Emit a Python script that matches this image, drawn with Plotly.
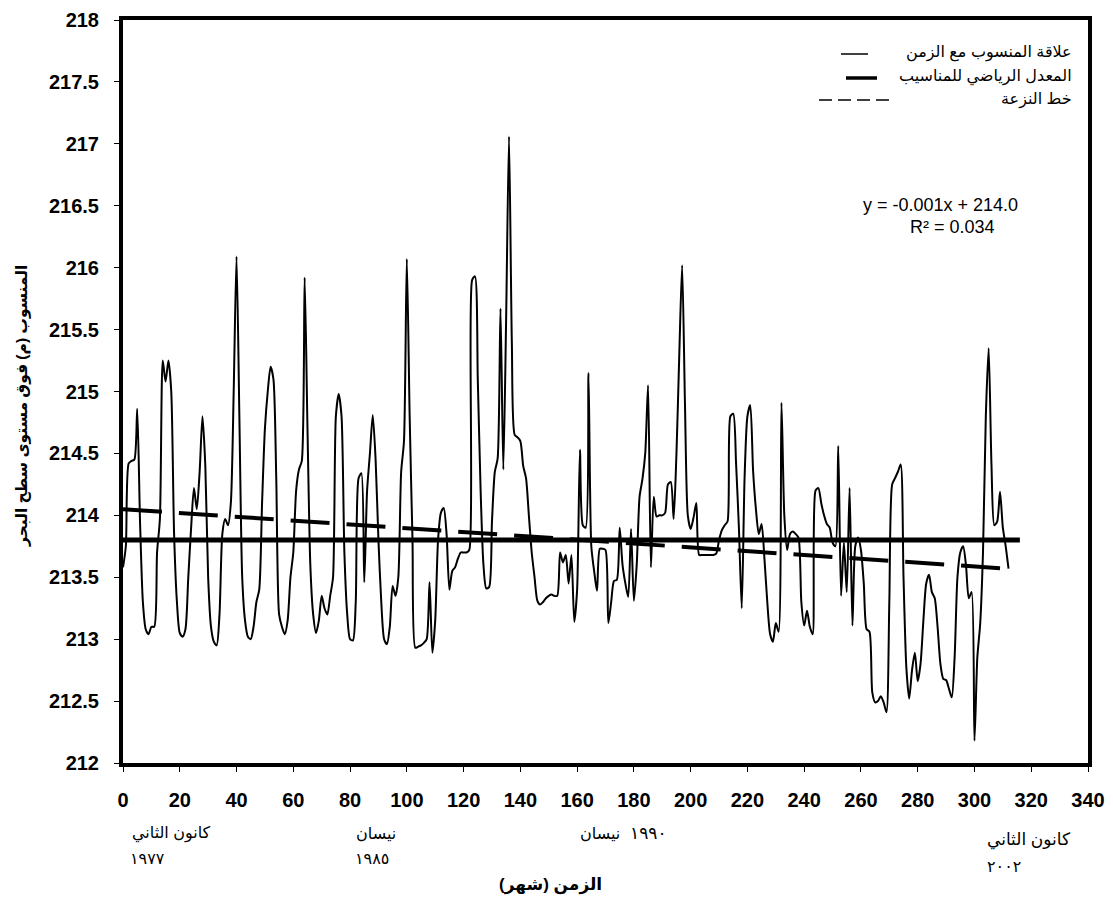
import plotly.graph_objects as go

# ---------------- data ----------------
levels = [
    213.58, 213.75, 214.42, 214.44, 214.45, 214.86, 213.95, 213.30, 213.08, 213.04,
    213.10, 213.10, 213.70, 213.97, 215.25, 215.08, 215.25, 215.00, 213.85, 213.30,
    213.05, 213.02, 213.08, 213.50, 213.90, 214.22, 214.05, 214.35, 214.80, 214.40,
    213.50, 213.10, 212.98, 212.95, 213.20, 213.85, 213.97, 213.92, 214.10, 215.00,
    216.09, 214.80, 213.50, 213.15, 213.02, 213.00, 213.10, 213.30, 213.40, 214.10,
    214.70, 215.00, 215.20, 215.10, 214.30, 213.20, 213.10, 213.04, 213.15, 213.50,
    213.70, 214.20, 214.37, 214.44, 215.92, 214.70, 213.60, 213.20, 213.05, 213.15,
    213.35, 213.25, 213.20, 213.35, 213.50, 214.80, 214.98, 214.80, 213.70, 213.20,
    213.00, 212.99, 213.30, 214.30, 214.34, 213.46, 214.20, 214.50, 214.81, 214.45,
    213.80, 213.30, 213.00, 212.96, 213.10, 213.43, 213.35, 213.50, 214.35, 214.60,
    216.07, 214.80, 213.80, 212.93, 212.94, 212.95, 212.97, 213.00, 213.46, 212.89,
    213.15, 213.80, 214.02, 214.06, 213.85, 213.40, 213.55, 213.58, 213.65, 213.70,
    213.70, 213.70, 213.72, 215.90, 215.93, 215.10, 214.20, 213.60, 213.41, 213.42,
    213.95, 214.35, 214.46, 215.67, 214.37, 215.60, 217.06, 215.40, 214.65, 214.63,
    214.60, 214.40, 214.30, 214.00, 213.70, 213.50, 213.31, 213.28, 213.30, 213.33,
    213.35, 213.36, 213.35, 213.35, 213.70, 213.62, 213.68, 213.45, 213.68, 213.14,
    213.40, 214.53, 213.92, 213.90, 215.15, 213.75, 213.55, 213.39, 213.73, 213.73,
    213.72, 213.13, 213.30, 213.47, 213.48, 213.90, 213.60, 213.45, 213.34, 213.89,
    213.31, 213.60, 214.15, 214.29, 214.50, 215.05, 213.58, 214.15, 213.99, 214.00,
    214.00, 214.02, 214.25, 214.27, 213.97, 214.50, 215.30, 216.02, 214.90, 214.00,
    213.89, 213.98, 214.10, 213.68, 213.68, 213.68, 213.68, 213.68, 213.68, 213.69,
    213.80, 213.88, 213.92, 213.95, 214.80, 214.82, 214.42, 213.90, 213.25, 214.30,
    214.80, 214.89, 214.36, 214.05, 213.85, 213.93, 213.65, 213.30, 213.04, 212.98,
    213.13, 213.06, 214.91, 214.00, 213.72, 213.85, 213.87, 213.85, 213.82, 213.30,
    213.11, 213.23, 213.10, 213.04, 214.20, 214.22, 214.10, 214.00, 213.93, 213.90,
    213.78, 213.75, 214.56, 213.35, 213.78, 213.38, 214.22, 213.11, 213.75, 213.82,
    213.72, 213.45, 213.08, 213.06, 212.57, 212.49, 212.50, 212.54, 212.49, 212.41,
    213.30, 214.25, 214.30, 214.35, 214.41, 213.50, 212.77, 212.52, 212.75, 212.89,
    212.66, 212.80, 213.15, 213.45, 213.52, 213.38, 213.33, 213.10, 212.80, 212.68,
    212.67, 212.60, 212.53, 212.85, 213.50, 213.70, 213.75, 213.60, 213.33, 213.38,
    212.18, 212.85, 213.12, 213.70, 214.80, 215.35, 214.40, 213.92, 213.95, 214.19,
    213.90, 213.75, 213.57,
]
months = list(range(len(levels)))

mean_level = 213.80
mean_span = [0, 316]

trend_months = [0, 311]
trend_levels = [214.05, 213.57]

x_ticks = list(range(0, 341, 20))
y_ticks = [212 + 0.5 * i for i in range(13)]

legend_labels = ["علاقة المنسوب مع الزمن", "المعدل الرياضي للمناسيب", "خط النزعة"]
equation_text = "y = -0.001x + 214.0"
r2_text = "R² = 0.034"
y_title = "المنسوب (م) فوق مستوى سطح البحر"
x_title = "\u200fالزمن (شهر)\u200f"

# ---------------- geometry (page pixels; page body has an 8px margin) ----------------
BODY = 8
FIG_W, FIG_H = 1113 - BODY, 906 - BODY
PLOT_L, PLOT_R, PLOT_T, PLOT_B = 123, 1088, 20, 763
PW, PH = PLOT_R - PLOT_L, PLOT_B - PLOT_T
M_L = PLOT_L - BODY
M_T = PLOT_T - BODY
M_R = FIG_W - M_L - PW
M_B = FIG_H - M_T - PH


def px(x):
    return (x - PLOT_L) / PW


def py(y):
    return (PLOT_B - y) / PH


FONT = "Liberation Sans, Arial, DejaVu Sans, sans-serif"
BOLD_TICK = dict(family=FONT, size=20, color="black", weight="bold")

fig = go.Figure()

fig.add_trace(go.Scatter(
    x=months, y=levels, mode="lines",
    line=dict(color="black", width=2, shape="spline", smoothing=0.7),
    name=legend_labels[0], showlegend=False,
))
fig.add_trace(go.Scatter(
    x=mean_span, y=[mean_level, mean_level], mode="lines",
    line=dict(color="black", width=5), name=legend_labels[1], showlegend=False,
))
fig.add_trace(go.Scatter(
    x=trend_months, y=trend_levels, mode="lines",
    line=dict(color="black", width=4, dash="39px,17px"), name=legend_labels[2], showlegend=False,
))

ann = []


def add_text(text, x, y, size=15, bold=False, xanchor="center", angle=0):
    f = dict(family=FONT, size=size, color="black")
    if bold:
        f["weight"] = "bold"
    ann.append(dict(text=text, x=px(x), y=py(y), xref="paper", yref="paper",
                    xanchor=xanchor, yanchor="middle", showarrow=False,
                    font=f, textangle=angle))


# axis titles
add_text(y_title, 22, 406, size=15.5, bold=True, angle=-90)
add_text(x_title, 550, 885, size=17, bold=True)

# date labels under the x axis
add_text("كانون الثاني", 130, 833, size=16, xanchor="left")
add_text("١٩٧٧", 128, 858, size=16, xanchor="left")
add_text("نيسان", 354, 833, size=16, xanchor="left")
add_text("١٩٨٥", 353, 858, size=16, xanchor="left")
add_text("نيسان", 622, 833, size=16, xanchor="right")
add_text("١٩٩٠", 628, 833, size=17, xanchor="left")
add_text("كانون الثاني", 985, 840, size=17, xanchor="left")
add_text("٢٠٠٢", 985, 866, size=16, xanchor="left")

# hand-drawn legend (text right-aligned, line samples to the left)
for lab, yy in zip(legend_labels, [53, 77, 99]):
    add_text(lab, 1074, yy, size=16, xanchor="right")

# trendline equation
add_text(equation_text, 940, 205, size=18)
add_text(r2_text, 952, 227, size=18)

shapes = [
    dict(type="line", xref="paper", yref="paper", x0=px(841), x1=px(868), y0=py(54), y1=py(54),
         line=dict(color="black", width=1.5)),
    dict(type="line", xref="paper", yref="paper", x0=px(846), x1=px(877), y0=py(78), y1=py(78),
         line=dict(color="black", width=3.5)),
    dict(type="line", xref="paper", yref="paper", x0=px(819), x1=px(889), y0=py(100), y1=py(100),
         line=dict(color="black", width=1.5, dash="13px,6px")),
]

fig.update_layout(
    width=FIG_W, height=FIG_H,
    margin=dict(l=M_L, r=M_R, t=M_T, b=M_B, pad=0, autoexpand=False),
    paper_bgcolor="white", plot_bgcolor="white",
    showlegend=False,
    annotations=ann, shapes=shapes,
    xaxis=dict(
        range=[0, 340], tickvals=x_ticks, ticktext=[str(v) for v in x_ticks],
        showgrid=False, zeroline=False, automargin=False,
        showline=True, linecolor="black", linewidth=4, mirror=True,
        ticks="outside", ticklen=5, tickwidth=1, tickcolor="black",
        tickfont=BOLD_TICK, ticklabelstandoff=11, ticklabeloverflow="allow",
    ),
    yaxis=dict(
        range=[212, 218], tickvals=y_ticks, ticktext=[f"{v:g}" for v in y_ticks],
        showgrid=False, zeroline=False, automargin=False,
        showline=True, linecolor="black", linewidth=4, mirror=True,
        ticks="outside", ticklen=5, tickwidth=1, tickcolor="black",
        tickfont=BOLD_TICK, ticklabelstandoff=11, ticklabeloverflow="allow",
    ),
)

fig.write_html("out.html")
